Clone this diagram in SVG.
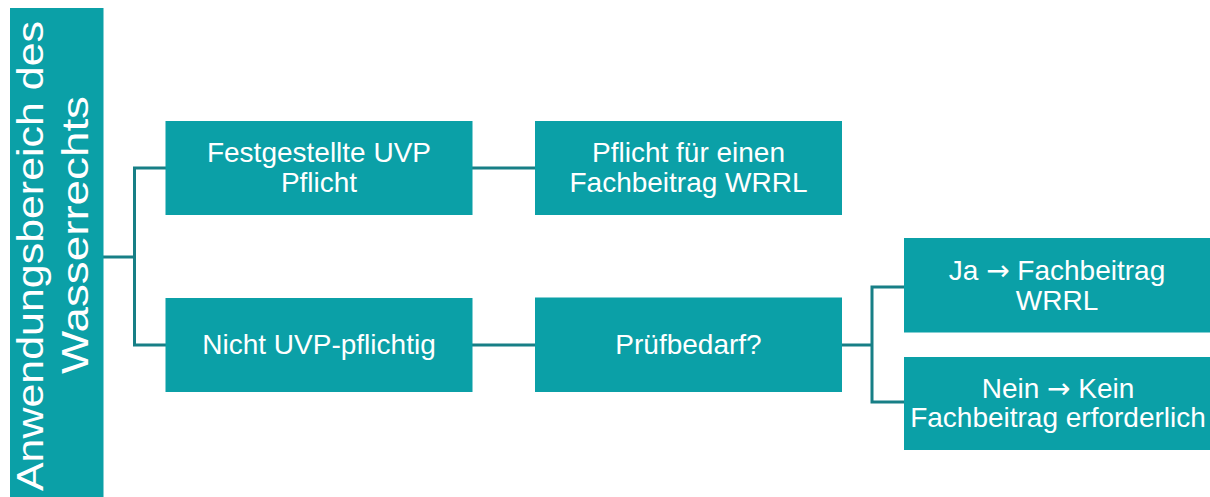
<svg xmlns="http://www.w3.org/2000/svg" width="1210" height="497" viewBox="0 0 1210 497">
  <style>
    .box { fill: #0ba0a7; }
    .lbl { fill: #ffffff; font-family: "Liberation Sans", Arial, sans-serif; font-size: 28px; text-anchor: middle; }
    .arr { font-family: "DejaVu Sans", sans-serif; }
    .title { fill: #ffffff; font-family: "Liberation Sans", Arial, sans-serif; font-size: 36px; }
    .conn { fill: none; stroke: #177f86; stroke-width: 3; }
  </style>
  <rect width="1210" height="497" fill="#ffffff"/>

  <!-- connectors -->
  <g id="connectors">
    <path class="conn" d="M103,257 H134.5"/>
    <path class="conn" d="M166,168 H134.5 V345 H166"/>
    <path class="conn" d="M472,168 H536"/>
    <path class="conn" d="M472,345 H536"/>
    <path class="conn" d="M841,345 H872"/>
    <path class="conn" d="M905,287 H872 V402 H905"/>
  </g>

  <!-- vertical title bar -->
  <g id="scope">
    <rect class="box" x="10" y="8" width="93.5" height="489"/>
    <text class="title" transform="rotate(-90)" x="-491" y="42.5" textLength="470" lengthAdjust="spacingAndGlyphs">Anwendungsbereich des</text>
    <text class="title" transform="rotate(-90)" x="-374" y="87.5" textLength="278" lengthAdjust="spacingAndGlyphs">Wasserrechts</text>
  </g>

  <g id="uvp-pflicht">
    <rect class="box" x="165.5" y="121" width="307" height="94"/>
    <text class="lbl" x="319" y="162">Festgestellte UVP</text>
    <text class="lbl" x="319" y="191.5">Pflicht</text>
  </g>

  <g id="nicht-uvp">
    <rect class="box" x="165.5" y="298" width="307" height="94"/>
    <text class="lbl" x="319" y="354">Nicht UVP-pflichtig</text>
  </g>

  <g id="fachbeitrag-pflicht">
    <rect class="box" x="535" y="121" width="307" height="94"/>
    <text class="lbl" x="688.5" y="162">Pflicht für einen</text>
    <text class="lbl" x="688.5" y="191.5">Fachbeitrag WRRL</text>
  </g>

  <g id="pruefbedarf">
    <rect class="box" x="535" y="297.5" width="307" height="94.5"/>
    <text class="lbl" x="688.5" y="354">Prüfbedarf?</text>
  </g>

  <g id="ja">
    <rect class="box" x="904" y="238" width="306" height="94.5"/>
    <text class="lbl" x="1057" y="280">Ja <tspan class="arr">→</tspan> Fachbeitrag</text>
    <text class="lbl" x="1057" y="310">WRRL</text>
  </g>

  <g id="nein">
    <rect class="box" x="904" y="357" width="306" height="93"/>
    <text class="lbl" x="1058" y="398">Nein <tspan class="arr">→</tspan> Kein</text>
    <text class="lbl" x="1058" y="427">Fachbeitrag erforderlich</text>
  </g>
</svg>
